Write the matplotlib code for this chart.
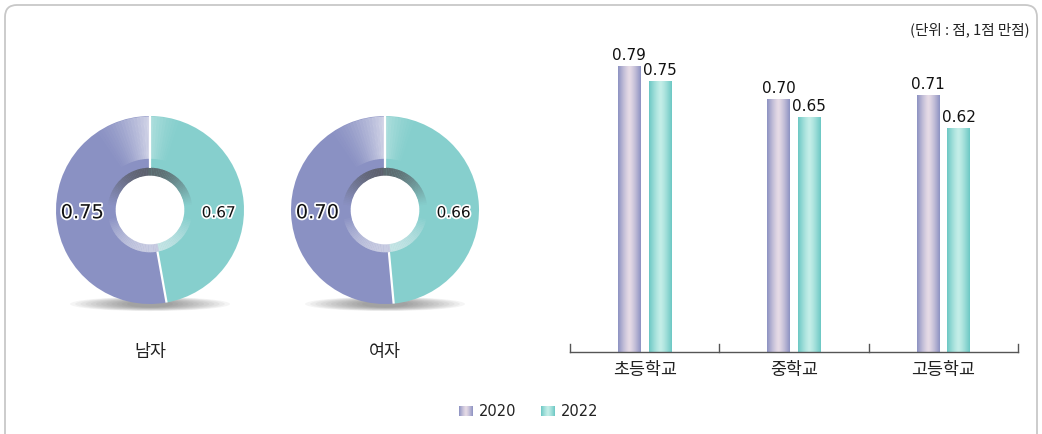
import numpy as np
import matplotlib
matplotlib.use("Agg")
import matplotlib.pyplot as plt
from matplotlib.patches import Wedge, Ellipse, Circle, FancyBboxPatch
import matplotlib.patheffects as pe
from matplotlib.colors import to_rgb

plt.rcParams['font.family'] = ['Noto Sans CJK KR', 'DejaVu Sans']
NUMFONT = ['DejaVu Sans']

# ---- data ----
gender_labels = ['남자', '여자']
gender_2020 = [0.75, 0.70]
gender_2022 = [0.67, 0.66]

school_labels = ['초등학교', '중학교', '고등학교']
school_2020 = [0.79, 0.70, 0.71]
school_2022 = [0.75, 0.65, 0.62]

years = ['2020', '2022']
unit_text = '(단위 : 점, 1점 만점)'

W, H = 1042, 434
fig = plt.figure(figsize=(W / 100, H / 100), dpi=100)

PURPLE = np.array(to_rgb('#8a91c3'))
TEAL = np.array(to_rgb('#86cfcd'))
DARK = np.array(to_rgb('#55585e'))
LIGHT = np.array(to_rgb('#f2f3f6'))

# border
bg = fig.add_axes([0, 0, 1, 1])
bg.set_xlim(0, W)
bg.set_ylim(H, 0)
bg.axis('off')
bg.add_patch(FancyBboxPatch((5, 5), W - 10, H + 20, boxstyle='round,pad=0,rounding_size=12',
                            fc='white', ec='#c8c8c8', lw=1.3))

# ---- donuts ----
centers = [150, 385]
R_px = 94
half = 120
for i, cx in enumerate(centers):
    cy = 210
    ax = fig.add_axes([(cx - half) / W, 1 - (cy + half) / H, 2 * half / W, 2 * half / H])
    lim = half / R_px
    ax.set_xlim(-lim, lim)
    ax.set_ylim(-lim, lim)
    ax.set_aspect('equal')
    ax.axis('off')
    v20, v22 = gender_2020[i], gender_2022[i]
    tot = v20 + v22
    teal_deg = v22 / tot * 360
    # shadow
    for k in range(12):
        ax.add_patch(Ellipse((0, -1.0), 1.7 - k * 0.11, 0.15 - k * 0.007,
                             fc='#4a4a4a', ec='none', alpha=0.055, zorder=1))
    ax.add_patch(Wedge((0, 0), 1.0, 90 - teal_deg, 90, width=0.63, fc=TEAL, ec='none', zorder=2))
    ax.add_patch(Wedge((0, 0), 1.0, 90, 90 - teal_deg + 360, width=0.63, fc=PURPLE, ec='none', zorder=2))
    # top highlight on purple / teal
    n = 18
    for k in range(n):
        a0 = 90 + k * 2.0
        alpha = 0.6 * (1 - k / n) ** 1.6
        ax.add_patch(Wedge((0, 0), 0.995, a0, a0 + 2.1, width=0.45, fc='white', ec='none',
                           alpha=alpha, zorder=3))
    for k in range(10):
        a1 = 90 - k * 2.0
        alpha = 0.3 * (1 - k / 10) ** 1.6
        ax.add_patch(Wedge((0, 0), 0.995, a1 - 2.1, a1, width=0.45, fc='white', ec='none',
                           alpha=alpha, zorder=3))
    # inner shaded ring
    nseg = 144
    for k in range(nseg):
        a0 = k * 360 / nseg
        amid = np.deg2rad(a0 + 180 / nseg)
        base = TEAL if ((90 - a0) % 360) < teal_deg else PURPLE
        s = np.sin(amid)
        if s > 0.1:
            f = 0.85 * ((s - 0.1) / 0.9) ** 1.2
            col = base * (1 - f) + DARK * f
        elif s < -0.2:
            f = 0.6 * ((-s - 0.2) / 0.8) ** 0.9
            col = base * (1 - f) + LIGHT * f
        else:
            col = base
        ax.add_patch(Wedge((0, 0), 0.45, a0, a0 + 360 / nseg + 0.5, width=0.09,
                           fc=np.clip(col, 0, 1), ec='none', zorder=4))
    ax.add_patch(Circle((0, 0), 0.365, fc='white', ec='none', zorder=5))
    # white divider lines
    for ang in (90, 90 - teal_deg):
        a = np.deg2rad(ang)
        ax.plot([0.45 * np.cos(a), 1.0 * np.cos(a)], [0.45 * np.sin(a), 1.0 * np.sin(a)],
                color='white', lw=1.6, zorder=6, solid_capstyle='butt')
    stroke = [pe.withStroke(linewidth=2.5, foreground='white')]
    ax.text(-0.72, -0.03, f'{v20:.2f}', ha='center', va='center', fontsize=14,
            family=NUMFONT, color='#111111', path_effects=stroke, zorder=7)
    ax.text(0.73, -0.03, f'{v22:.2f}', ha='center', va='center', fontsize=11,
            family=NUMFONT, color='#111111', path_effects=stroke, zorder=7)
    fig.text(cx / W, 1 - 352 / H, gender_labels[i], ha='center', va='center', fontsize=12.5, color='#222222')

# ---- bar chart ----
base_y = 352
top_y = 20
scale = 362.0
x0, x1 = 570, 1018
bax = fig.add_axes([x0 / W, 1 - base_y / H, (x1 - x0) / W, (base_y - top_y) / H])
bax.set_xlim(-0.5, 2.5)
bax.set_ylim(0, (base_y - top_y) / scale)
bax.axis('off')
bax.set_zorder(5)
bax.patch.set_alpha(0)

xs = np.arange(len(school_labels))
bw = 0.152
off = 0.102

def grad_img(edge, center):
    edge = np.array(to_rgb(edge)); center = np.array(to_rgb(center))
    u = np.linspace(-1, 1, 64)
    w = 1 - np.abs(u) ** 1.3
    img = edge[None, :] * (1 - w[:, None]) + center[None, :] * w[:, None]
    return img[None, :, :]

purple_img = grad_img('#8d92c2', '#e6dbe6')
teal_img = grad_img('#6cc8c4', '#c4eee8')

b1 = bax.bar(xs - off, school_2020, bw, color='#a6a9d0', zorder=2)
b2 = bax.bar(xs + off, school_2022, bw, color='#8fd6d2', zorder=2)
for bars, img in [(b1, purple_img), (b2, teal_img)]:
    for r in bars:
        x, y = r.get_x(), r.get_y()
        w, h = r.get_width(), r.get_height()
        im = bax.imshow(img, extent=[x, x + w, y, y + h], aspect='auto', zorder=3, interpolation='bilinear')
        im.set_clip_path(r)

for xi, v in zip(xs - off, school_2020):
    bax.text(xi, v + 0.008, f'{v:.2f}', ha='center', va='bottom', fontsize=11,
             family=NUMFONT, color='#111111')
for xi, v in zip(xs + off, school_2022):
    bax.text(xi, v + 0.008, f'{v:.2f}', ha='center', va='bottom', fontsize=11,
             family=NUMFONT, color='#111111')

bax.plot([-0.5, 2.5], [0, 0], color='#555555', lw=1, clip_on=False, zorder=4)
for t in [-0.5, 0.5, 1.5, 2.5]:
    bax.plot([t, t], [0, 0.022], color='#555555', lw=1, clip_on=False, zorder=4)
for xi, lab in zip(xs, school_labels):
    bax.text(xi, -18 / scale, lab, ha='center', va='center', fontsize=12.5, color='#222222')

fig.text(1030 / W, 1 - 30 / H, unit_text, ha='right', va='center', fontsize=10.5, color='#222222')

# ---- legend ----
leg_y = 411
for (lx, img, lab) in [(459, purple_img, years[0]), (541, teal_img, years[1])]:
    bg.imshow(img, extent=[lx, lx + 14, leg_y + 5, leg_y - 5], aspect='auto', zorder=3)
    bg.text(lx + 20, leg_y, lab, ha='left', va='center', fontsize=10.5, color='#222222',
            family=NUMFONT)
bg.set_xlim(0, W)
bg.set_ylim(H, 0)

fig.savefig('out.png', dpi=100)
